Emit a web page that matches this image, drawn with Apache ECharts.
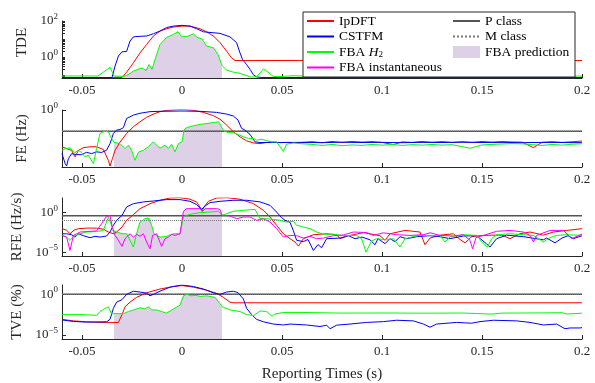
<!DOCTYPE html>
<html>
<head>
<meta charset="utf-8">
<script src="https://cdn.jsdelivr.net/npm/echarts@6/dist/echarts.min.js"></script>
<style>
  html, body { margin: 0; padding: 0; background: #fff; }
  #chart { width: 595px; height: 383px; }
</style>
</head>
<body>
<div id="chart"></div>
<script>
// time axis
const xMin = -0.06;
const xMax = 0.2;
const xTickValues = [-0.05, 0, 0.05, 0.1, 0.15, 0.2];

// panels: TDE, FE, RFE, TVE
const panelNames = ["TDE", "FE (Hz)", "RFE (Hz/s)", "TVE (%)"];
const yMin = [0.066, 6.3e-7, 3.2e-6, 3.2e-6];
const yMax = [100, 1, 72, 14];
const yLabelValues = [[1, 100], [1], [1e-5, 1], [1e-5, 1]];
const tdeTickValues = [0.07, 0.08, 0.09, 0.1, 0.2, 0.3, 0.4, 0.5, 0.6, 0.7, 0.8, 0.9,
  1, 2, 3, 4, 5, 6, 7, 8, 9, 10, 20, 30, 40, 50, 60, 70, 80, 90, 100];

// compliance limits (no limit drawn on TDE)
const pClassLimit = [null, 0.005, 0.4, 1];
const mClassLimit = [null, 0.005, 0.1, 1];

// FBA prediction window
const predictionStart = -0.034;
const predictionEnd = 0.02;

// ---- TDE ----
const tdeIpdft = [[-0.06, 0.07], [-0.03, 0.07], [-0.0277, 0.14], [-0.0243, 0.46], [-0.021, 1.65],
  [-0.0177, 4.9], [-0.0143, 14.5], [-0.011, 27.5], [-0.0077, 37], [-0.0043, 46], [0, 52], [0.004, 52],
  [0.009, 37], [0.0123, 25], [0.0157, 14.5], [0.019, 6.2], [0.0223, 2.1], [0.0248, 0.87], [0.0265, 0.63],
  [0.03, 0.62], [0.06, 0.63], [0.1, 0.62], [0.15, 0.63], [0.2, 0.62]];
const tdeCstfm = [[-0.06, 0.07], [-0.035, 0.07], [-0.0335, 0.3], [-0.0318, 1.1], [-0.03, 1.9], [-0.0277, 2],
  [-0.026, 7.6], [-0.0243, 13], [-0.021, 14], [-0.0177, 14.5], [-0.0143, 19.5], [-0.011, 27.5], [-0.0077, 43],
  [-0.0043, 52], [0, 57], [0.004, 52], [0.0073, 37], [0.0107, 25], [0.014, 23], [0.019, 20.4], [0.024, 13],
  [0.0273, 6.2], [0.029, 1.65], [0.0303, 0.7], [0.0323, 0.37], [0.034, 0.2], [0.0357, 0.1], [0.0373, 0.076],
  [0.04, 0.07], [0.2, 0.07]];
const tdeFbaH2 = [[-0.06, 0.085], [-0.05, 0.086], [-0.042, 0.085], [-0.039, 0.15], [-0.036, 0.26],
  [-0.034, 0.085], [-0.029, 0.082], [-0.027, 0.1], [-0.0243, 0.16], [-0.022, 0.2], [-0.02, 0.24], [-0.018, 0.17],
  [-0.0165, 0.37], [-0.015, 0.2], [-0.0127, 1.35], [-0.011, 4.9], [-0.0077, 12], [-0.0043, 18], [-0.002, 25],
  [0, 13], [0.003, 14], [0.0057, 19.5], [0.0075, 12], [0.01, 10], [0.0123, 4], [0.0157, 3.2], [0.018, 1.35],
  [0.02, 0.33], [0.0223, 0.18], [0.0257, 0.14], [0.029, 0.12], [0.034, 0.076], [0.0373, 0.076], [0.0407, 0.21],
  [0.043, 0.14], [0.0457, 0.08], [0.05, 0.08], [0.055, 0.088], [0.06, 0.085], [0.08, 0.083], [0.1, 0.086],
  [0.12, 0.082], [0.14, 0.085], [0.16, 0.083], [0.18, 0.086], [0.2, 0.084]];

// ---- FE ----
const feIpdft = [[-0.06, 1e-4], [-0.0577, 6.3e-5], [-0.0552, 4e-5], [-0.0535, 8e-6], [-0.0518, 4e-5],
  [-0.0493, 8e-5], [-0.046, 1e-4], [-0.0427, 1e-4], [-0.0393, 5e-5], [-0.0368, 3.2e-6], [-0.036, 8e-7],
  [-0.0348, 5e-6], [-0.0335, 4e-5], [-0.031, 3.2e-4], [-0.0277, 2.8e-3], [-0.0243, 0.015], [-0.021, 0.052],
  [-0.0177, 0.16], [-0.0143, 0.36], [-0.011, 0.66], [-0.0077, 0.9], [-0.0027, 1.1], [0.0007, 1.17],
  [0.0057, 0.9], [0.0107, 0.55], [0.0157, 0.24], [0.019, 0.1], [0.0223, 0.023], [0.0257, 4.3e-3],
  [0.029, 1.2e-3], [0.0323, 4.4e-4], [0.0357, 2.6e-4], [0.039, 2.2e-4], [0.0423, 3e-4], [0.0457, 3.3e-4],
  [0.049, 2.8e-4], [0.0523, 3e-4], [0.059, 2.9e-4], [0.065, 3.6e-4], [0.07, 2.8e-4], [0.075, 3.8e-4],
  [0.08, 3e-4], [0.085, 3.8e-4], [0.09, 3.2e-4], [0.095, 3.7e-4], [0.1, 3e-4], [0.1057, 1.7e-4], [0.11, 3.4e-4],
  [0.115, 3e-4], [0.12, 3.8e-4], [0.125, 3.1e-4], [0.13, 3.7e-4], [0.135, 3e-4], [0.14, 3.6e-4], [0.145, 3e-4],
  [0.15, 3.8e-4], [0.155, 3.2e-4], [0.16, 3.7e-4], [0.165, 3.3e-4], [0.17, 3.2e-4], [0.1757, 8e-5],
  [0.18, 3e-4], [0.185, 3.6e-4], [0.19, 3e-4], [0.195, 3.5e-4], [0.2, 4.2e-4]];
const feCstfm = [[-0.06, 1.8e-5], [-0.0585, 1.6e-6], [-0.0577, 8e-7], [-0.0568, 5e-6], [-0.0552, 1.8e-5],
  [-0.0527, 1.4e-5], [-0.0502, 1.4e-5], [-0.0477, 2.5e-5], [-0.0452, 1.8e-5], [-0.0427, 2.8e-5],
  [-0.0402, 2.4e-5], [-0.0377, 4.2e-5], [-0.036, 2.2e-4], [-0.0343, 2.8e-3], [-0.0327, 6.5e-3],
  [-0.031, 7.6e-3], [-0.0293, 0.012], [-0.0277, 0.12], [-0.0243, 0.28], [-0.021, 0.44], [-0.016, 0.66],
  [-0.011, 0.72], [0, 0.78], [0.009, 0.72], [0.0173, 0.55], [0.0223, 0.36], [0.0257, 0.22], [0.028, 0.08],
  [0.0298, 0.01], [0.0315, 6.5e-3], [0.034, 2.2e-3], [0.0365, 3.4e-4], [0.039, 2.9e-4], [0.05, 2.9e-4],
  [0.06, 3e-4], [0.07, 2.8e-4], [0.08, 3.1e-4], [0.09, 2.9e-4], [0.1, 3e-4], [0.11, 2.8e-4], [0.12, 3e-4],
  [0.13, 2.9e-4], [0.14, 3.1e-4], [0.15, 2.9e-4], [0.16, 3e-4], [0.17, 2.8e-4], [0.18, 3e-4], [0.19, 2.9e-4],
  [0.2, 2.8e-4]];
const feFbaH2 = [[-0.06, 4.2e-5], [-0.0585, 6e-5], [-0.056, 7.6e-5], [-0.0535, 2.3e-5], [-0.0518, 4.2e-5],
  [-0.0502, 2.3e-5], [-0.0485, 8e-6], [-0.0468, 1.2e-5], [-0.0443, 1.4e-6], [-0.0427, 6.3e-5],
  [-0.041, 2.8e-3], [-0.0385, 5e-3], [-0.0368, 4.2e-3], [-0.0352, 8e-4], [-0.034, 3e-4], [-0.0335, 2.2e-4],
  [-0.031, 2.2e-4], [-0.0285, 6.3e-5], [-0.0268, 1.5e-4], [-0.0252, 4.2e-5], [-0.0235, 3.4e-6],
  [-0.0218, 2.6e-5], [-0.0193, 4.2e-5], [-0.0168, 1e-4], [-0.0143, 3.4e-4], [-0.0127, 1.5e-4], [-0.011, 7e-5],
  [-0.0085, 1.5e-4], [-0.0068, 6.3e-5], [-0.0052, 1.9e-4], [-0.0035, 2.8e-5], [-0.0018, 2.2e-4], [0, 3.4e-4],
  [0.001, 6.5e-3], [0.0023, 0.012], [0.0057, 0.019], [0.009, 0.027], [0.014, 0.038], [0.0182, 0.052],
  [0.0193, 0.023], [0.02, 0.011], [0.021, 5e-3], [0.0232, 3.5e-3], [0.0257, 3.3e-3], [0.028, 2.2e-3],
  [0.0307, 1.2e-3], [0.0332, 8e-4], [0.0357, 8e-4], [0.0373, 5.2e-4], [0.0398, 6.5e-4], [0.0423, 4.6e-4],
  [0.0448, 3.4e-4], [0.0473, 3.4e-4], [0.049, 1e-4], [0.0507, 3.2e-5], [0.0523, 1.9e-4], [0.0557, 2.6e-4],
  [0.059, 2.2e-4], [0.065, 1.8e-4], [0.07, 1.4e-4], [0.075, 1.8e-4], [0.08, 1.3e-4], [0.085, 1.6e-4],
  [0.09, 1.4e-4], [0.095, 1.8e-4], [0.1, 1.5e-4], [0.105, 1.8e-4], [0.11, 1.4e-4], [0.115, 1.7e-4],
  [0.12, 1.5e-4], [0.125, 1.8e-4], [0.13, 1.5e-4], [0.135, 1.7e-4], [0.144, 7e-5], [0.15, 1.6e-4],
  [0.155, 1.8e-4], [0.16, 2e-4], [0.165, 2.2e-4], [0.17, 2.1e-4], [0.175, 1.7e-4], [0.18, 1.4e-4],
  [0.185, 1.8e-4], [0.19, 1.5e-4], [0.195, 1.9e-4], [0.2, 2.1e-4]];

// ---- RFE ----
const rfeIpdft = [[-0.06, 9.3e-3], [-0.0577, 6e-3], [-0.056, 2.1e-3], [-0.054, 6e-3], [-0.0518, 9.3e-3],
  [-0.0477, 0.011], [-0.0427, 0.011], [-0.0393, 8e-3], [-0.0368, 3.5e-3], [-0.0343, 2.1e-3], [-0.0327, 3.5e-3],
  [-0.03, 0.015], [-0.0277, 0.107], [-0.0243, 0.56], [-0.021, 3.2], [-0.016, 13.8], [-0.011, 37], [-0.006, 72],
  [-0.001, 79], [0.004, 50], [0.0073, 23], [0.0095, 3.2], [0.01, 1.5], [0.011, 5.2], [0.0132, 27.5],
  [0.0173, 72], [0.0223, 79], [0.029, 50], [0.0357, 13.8], [0.0407, 2], [0.044, 0.28], [0.0473, 0.025],
  [0.0507, 2.1e-3], [0.054, 5e-4], [0.0565, 1.9e-4], [0.0582, 5.7e-5], [0.0607, 5e-4], [0.0657, 1.6e-3],
  [0.0723, 2.1e-3], [0.0773, 1.6e-3], [0.079, 5e-4], [0.0832, 1.2e-3], [0.0907, 2.9e-3], [0.099, 1.2e-3],
  [0.1015, 3.2e-4], [0.104, 2.1e-3], [0.1115, 5.6e-3], [0.119, 3.5e-3], [0.1215, 8.5e-5], [0.124, 6e-4],
  [0.129, 1.4e-3], [0.1357, 2.1e-3], [0.139, 4e-4], [0.1415, 1.5e-4], [0.1448, 9e-4], [0.149, 1.2e-3],
  [0.154, 1.4e-3], [0.16, 1.4e-3], [0.164, 5e-4], [0.169, 2.1e-3], [0.174, 3.5e-3], [0.1807, 1.4e-3],
  [0.1857, 3.5e-3], [0.1923, 5.6e-3], [0.2, 9.3e-3]];
const rfeCstfm = [[-0.06, 2.1e-3], [-0.0577, 2.1e-3], [-0.0552, 1.6e-3], [-0.0535, 7.9e-4], [-0.0518, 2.1e-3],
  [-0.0493, 1.2e-3], [-0.046, 6.6e-4], [-0.0435, 1e-3], [-0.041, 8e-4], [-0.0377, 1.1e-3], [-0.036, 3.5e-3],
  [-0.0343, 0.025], [-0.0327, 0.107], [-0.03, 0.46], [-0.0277, 5.2], [-0.0243, 13.8], [-0.0193, 23],
  [-0.0143, 30], [-0.0077, 45], [-0.001, 45], [0.004, 27.5], [0.0073, 10.5], [0.0098, 2.6], [0.0115, 7],
  [0.014, 18.6], [0.019, 27.5], [0.0257, 37], [0.0323, 37], [0.039, 23], [0.044, 8.5], [0.0473, 1.2],
  [0.0498, 0.23], [0.0515, 0.107], [0.054, 0.06], [0.0557, 5e-3], [0.0573, 3.2e-4], [0.0607, 2.1e-4],
  [0.063, 4e-4], [0.0657, 1.6e-5], [0.068, 9e-5], [0.0698, 3.5e-5], [0.0723, 5e-4], [0.079, 6e-4],
  [0.0832, 1.2e-3], [0.0865, 5e-4], [0.09, 8e-4], [0.094, 3.6e-4], [0.0965, 8.5e-5], [0.098, 5e-4],
  [0.1015, 1.2e-4], [0.104, 5e-4], [0.1065, 2.1e-4], [0.109, 9e-4], [0.1123, 5e-4], [0.1173, 9e-4],
  [0.124, 1.2e-3], [0.129, 9e-4], [0.134, 5e-4], [0.1407, 1.1e-3], [0.1473, 1.2e-3], [0.1523, 1.1e-4],
  [0.154, 4.4e-5], [0.1573, 5e-4], [0.1623, 1.4e-3], [0.1707, 9e-4], [0.1807, 3.6e-4], [0.1823, 6e-4],
  [0.1865, 1.5e-4], [0.19, 6e-4], [0.193, 1.2e-3], [0.1957, 5e-4], [0.2, 1.2e-3]];
const rfeFbaH2 = [[-0.06, 1.3e-3], [-0.0577, 7.9e-4], [-0.056, 3e-4], [-0.0543, 1e-3], [-0.051, 2.1e-3],
  [-0.0477, 3.5e-3], [-0.0427, 4e-3], [-0.0393, 5.6e-3], [-0.0368, 0.28], [-0.036, 0.46], [-0.0343, 5.6e-3],
  [-0.0327, 3.5e-3], [-0.03, 2.1e-3], [-0.0277, 2.1e-3], [-0.026, 3e-4], [-0.0243, 4.4e-5], [-0.0227, 2.1e-3],
  [-0.021, 0.065], [-0.0185, 0.17], [-0.0168, 0.21], [-0.0152, 0.025], [-0.014, 2.1e-3], [-0.0127, 1.3e-3],
  [-0.011, 7.9e-4], [-0.0077, 1e-3], [-0.0043, 2.1e-3], [-0.001, 2.1e-3], [0.0007, 0.28], [0.0023, 0.46],
  [0.0057, 0.74], [0.009, 1], [0.014, 1.2], [0.0182, 1.5], [0.02, 0.46], [0.0223, 0.74], [0.0257, 1.5],
  [0.0307, 2], [0.0365, 2.6], [0.039, 0.17], [0.0423, 0.17], [0.0457, 0.14], [0.049, 0.107], [0.0523, 0.065],
  [0.0557, 0.08], [0.0573, 0.025], [0.0607, 0.015], [0.064, 9.3e-3], [0.0673, 3.5e-3], [0.0707, 1.8e-3],
  [0.0757, 1.8e-3], [0.0807, 1.2e-3], [0.0873, 1.3e-3], [0.0898, 5e-4], [0.092, 1e-5], [0.0948, 2.6e-4],
  [0.0973, 5e-4], [0.1023, 3.6e-4], [0.1057, 5e-4], [0.109, 4.4e-5], [0.1115, 5e-4], [0.1173, 1.2e-3],
  [0.124, 1.3e-3], [0.129, 1.2e-3], [0.1315, 1.9e-4], [0.134, 8.5e-4], [0.1407, 1.6e-3], [0.1473, 1.3e-3],
  [0.1507, 1.1e-4], [0.1527, 4.4e-5], [0.1548, 5e-4], [0.1573, 1.6e-3], [0.164, 2.1e-3], [0.1707, 1.6e-3],
  [0.1757, 1.3e-3], [0.1807, 1.9e-4], [0.184, 7e-4], [0.1873, 1.3e-3], [0.1923, 1.6e-3], [0.2, 1.3e-3]];
const rfeFbaInst = [[-0.06, 1.3e-3], [-0.0577, 7.9e-4], [-0.056, 1.6e-5], [-0.0543, 1.3e-3], [-0.051, 3.5e-3],
  [-0.0477, 4e-3], [-0.0427, 4.8e-3], [-0.0402, 0.04], [-0.038, 0.28], [-0.036, 0.46], [-0.0347, 9.3e-3],
  [-0.0335, 1.3e-3], [-0.0318, 3e-4], [-0.03, 5.2e-5], [-0.0285, 5e-4], [-0.026, 2.1e-3], [-0.0243, 8e-4],
  [-0.0227, 1.8e-3], [-0.021, 1e-3], [-0.0193, 2.1e-3], [-0.0177, 1.9e-4], [-0.016, 2.6e-5], [-0.0147, 1.3e-3],
  [-0.0127, 2.1e-3], [-0.0102, 5.2e-5], [-0.0085, 5e-4], [-0.0068, 8e-4], [-0.0052, 1.8e-3], [-0.0035, 1.3e-3],
  [-0.001, 2.1e-3], [0.0007, 1.5], [0.0023, 3.2], [0.009, 3.2], [0.0103, 1.5], [0.0115, 3.2], [0.0173, 3.2],
  [0.019, 2.6], [0.02, 0.46], [0.024, 0.38], [0.0273, 0.17], [0.0307, 0.28], [0.034, 0.28], [0.0373, 0.107],
  [0.0407, 0.17], [0.044, 0.065], [0.0473, 9.3e-3], [0.0507, 8e-4], [0.054, 1.3e-3], [0.0573, 1.2e-3],
  [0.0607, 6e-4], [0.064, 1e-3], [0.0673, 5e-4], [0.0707, 6e-4], [0.0757, 1.2e-3], [0.0807, 1.5e-3],
  [0.0857, 3.5e-3], [0.0923, 3e-3], [0.0957, 1.3e-3], [0.1007, 2.8e-3], [0.1073, 1.6e-3], [0.114, 1.3e-3],
  [0.1207, 1.6e-3], [0.124, 2.8e-3], [0.129, 1.3e-3], [0.1357, 1.1e-3], [0.1407, 1.6e-3], [0.144, 3e-4],
  [0.1453, 2.6e-5], [0.147, 7e-4], [0.1507, 1.3e-3], [0.1573, 4.3e-3], [0.164, 5.6e-3], [0.1707, 3.5e-3],
  [0.174, 1.3e-3], [0.1757, 1.9e-4], [0.1773, 1.3e-3], [0.184, 5.6e-3], [0.1907, 5.6e-3], [0.1948, 5e-4],
  [0.2, 2e-3]];
const rfePrediction = [[-0.034, 5.6e-3], [-0.0327, 3.5e-3], [-0.03, 2.1e-3], [-0.0277, 2.1e-3], [-0.026, 2.1e-3],
  [-0.0243, 8e-4], [-0.0227, 2.1e-3], [-0.021, 0.065], [-0.0185, 0.17], [-0.0168, 0.21], [-0.0152, 0.025],
  [-0.014, 2.1e-3], [-0.0127, 2.1e-3], [-0.011, 7.9e-4], [-0.0077, 1e-3], [-0.0043, 2.1e-3], [-0.001, 2.1e-3],
  [0.0007, 1.5], [0.0023, 3.2], [0.009, 3.2], [0.0103, 1.5], [0.0115, 3.2], [0.0173, 3.2], [0.019, 2.6],
  [0.02, 0.46]];

// ---- TVE ----
const tveIpdft = [[-0.06, 8.3e-4], [-0.0543, 5.4e-4], [-0.0477, 4.2e-4], [-0.041, 3.5e-4], [-0.0318, 3.5e-4],
  [-0.03, 3.2e-3], [-0.0285, 0.029], [-0.026, 0.11], [-0.0227, 0.42], [-0.0177, 1.55], [-0.011, 4.5],
  [-0.0043, 9.1], [0, 12], [0.0057, 7.6], [0.0123, 3.2], [0.0173, 1.3], [0.0207, 0.42], [0.024, 0.11],
  [0.0257, 0.091], [0.2, 0.091]];
const tveCstfm = [[-0.06, 7.1e-4], [-0.0543, 4.6e-4], [-0.0477, 3.8e-4], [-0.0377, 4.2e-4], [-0.036, 8.3e-4],
  [-0.0343, 0.019], [-0.0327, 0.11], [-0.03, 0.22], [-0.0277, 1], [-0.0243, 2.4], [-0.021, 1.9], [-0.0177, 1.4],
  [-0.016, 0.65], [-0.0143, 1], [-0.011, 2.4], [-0.006, 7.6], [0, 14], [0.0057, 9], [0.0107, 4.5],
  [0.0157, 1.55], [0.019, 1], [0.0223, 1.9], [0.0257, 2.4], [0.028, 1.6], [0.0307, 0.26], [0.0323, 0.019],
  [0.0348, 3.2e-3], [0.0373, 8.3e-4], [0.0407, 4.2e-4], [0.0457, 2.2e-4], [0.0507, 1.7e-4], [0.054, 2.2e-4],
  [0.0623, 1.7e-4], [0.069, 1.1e-4], [0.0723, 1.6e-4], [0.074, 5.9e-5], [0.0773, 1.6e-4], [0.084, 2.2e-4],
  [0.0923, 3.5e-4], [0.1007, 4.4e-4], [0.1073, 6.5e-4], [0.1157, 5.4e-4], [0.1207, 2.2e-4], [0.124, 9e-5],
  [0.1273, 2.2e-4], [0.1373, 3.5e-4], [0.1448, 2.8e-4], [0.149, 4.4e-4], [0.1557, 6.5e-4], [0.1673, 5.4e-4],
  [0.174, 3.5e-4], [0.1807, 1.7e-4], [0.1873, 2.2e-4], [0.1915, 5.9e-5], [0.194, 7.3e-5], [0.199, 7.3e-5],
  [0.2, 8e-5]];
const tveFbaH2 = [[-0.06, 3.2e-3], [-0.05, 3.2e-3], [-0.0427, 2.6e-3], [-0.041, 7.6e-3], [-0.0385, 0.018],
  [-0.0368, 0.029], [-0.0352, 3.8e-3], [-0.034, 4.2e-3], [-0.0335, 4.4e-3], [-0.0293, 4.2e-3], [-0.0268, 7.6e-3],
  [-0.0243, 0.012], [-0.021, 0.022], [-0.0185, 0.016], [-0.0168, 0.029], [-0.0152, 0.012], [-0.0127, 0.012],
  [-0.0102, 7.6e-3], [-0.0077, 4.9e-3], [-0.0043, 0.016], [-0.001, 0.045], [0.0007, 0.65], [0.0023, 1],
  [0.0048, 0.65], [0.007, 0.76], [0.009, 0.55], [0.0123, 0.65], [0.0165, 0.42], [0.019, 0.071], [0.02, 0.03],
  [0.0207, 0.019], [0.024, 0.012], [0.029, 7.6e-3], [0.0323, 3.2e-3], [0.0357, 2.4e-3], [0.039, 9e-3],
  [0.0423, 7.6e-3], [0.045, 2e-3], [0.0465, 3.8e-3], [0.0507, 5.9e-3], [0.06, 5.9e-3], [0.08, 4.9e-3],
  [0.1, 5.1e-3], [0.12, 4.8e-3], [0.14, 5e-3], [0.1548, 3.7e-3], [0.16, 4.9e-3], [0.18, 5.2e-3], [0.19, 5.5e-3],
  [0.1923, 3.8e-3], [0.2, 4.8e-3]];

const ipdft = [tdeIpdft, feIpdft, rfeIpdft, tveIpdft];
const cstfm = [tdeCstfm, feCstfm, rfeCstfm, tveCstfm];
const fbaH2 = [tdeFbaH2, feFbaH2, rfeFbaH2, tveFbaH2];
const fbaInstantaneous = [null, null, rfeFbaInst, null];

// ---- layout / style ----
const gridTops = [21, 110, 198, 285];
const gridHeights = [57, 57, 58, 58];
const font = "'Liberation Serif', 'DejaVu Serif', serif";
const axisColor = "#262626";
const predictionColor = "#ded0e6";

function inWindow(points) {
  return points.filter(([t]) => t >= predictionStart && t <= predictionEnd);
}

function powerLabel(value) {
  const exponent = Math.round(Math.log10(value));
  return "{b|10}{e|" + String(exponent).replace("-", "\u2212") + "}";
}

const grid = [];
const xAxis = [];
const yAxis = [];
const series = [];

panelNames.forEach((name, i) => {
  grid.push({ left: 62, right: 13, top: gridTops[i], height: gridHeights[i] });
  xAxis.push({
    gridIndex: i,
    type: "value",
    min: xMin,
    max: xMax,
    axisLine: { onZero: false, lineStyle: { color: axisColor, width: 1 } },
    axisTick: { inside: true, length: 4, customValues: xTickValues, lineStyle: { color: axisColor } },
    axisLabel: {
      customValues: xTickValues,
      formatter: (v) => String(v),
      margin: 6,
      fontFamily: font,
      fontSize: 13,
      color: axisColor,
    },
    splitLine: { show: false },
    ...(i === 3
      ? {
          name: "Reporting Times (s)",
          nameLocation: "middle",
          nameGap: 28,
          nameTextStyle: { fontFamily: font, fontSize: 15, color: axisColor },
        }
      : {}),
  });
  yAxis.push({
    gridIndex: i,
    type: "log",
    logBase: 10,
    min: yMin[i],
    max: yMax[i],
    axisLine: { show: true, onZero: false, lineStyle: { color: axisColor, width: 1 } },
    axisTick: {
      show: true,
      inside: true,
      length: i === 0 ? 3 : 4,
      customValues: i === 0 ? tdeTickValues : yLabelValues[i],
      lineStyle: { color: axisColor },
    },
    axisLabel: {
      customValues: yLabelValues[i],
      formatter: powerLabel,
      margin: 4,
      color: axisColor,
      rich: {
        b: { fontFamily: font, fontSize: 13, lineHeight: 18, color: axisColor },
        e: { fontFamily: font, fontSize: 9, lineHeight: 18, verticalAlign: "top", color: axisColor },
      },
    },
    splitLine: { show: false },
    name: name,
    nameLocation: "middle",
    nameGap: 24,
    nameTextStyle: {
      fontFamily: font,
      fontSize: 15,
      color: axisColor,
      padding: i === 0 ? [0, 0, 0, 14] : 0,
    },
  });

  const common = { xAxisIndex: i, yAxisIndex: i, type: "line", symbol: "none", animation: false };

  series.push({
    ...common,
    name: "FBA prediction",
    data: i === 2 ? rfePrediction : inWindow(fbaH2[i]),
    z: 1,
    lineStyle: { width: 0, opacity: 0 },
    itemStyle: { color: predictionColor },
    areaStyle: { color: predictionColor, opacity: 1, origin: "start" },
  });
  if (pClassLimit[i] !== null) {
    series.push({
      ...common,
      name: "P class",
      data: [[xMin, pClassLimit[i]], [xMax, pClassLimit[i]]],
      lineStyle: { color: "#555555", width: 1.5 },
      itemStyle: { color: "#555555", opacity: 0 },
    });
    series.push({
      ...common,
      name: "M class",
      data: [[xMin, mClassLimit[i]], [xMax, mClassLimit[i]]],
      lineStyle: { color: "#777777", width: 1, type: "dotted" },
      itemStyle: { color: "#777777", opacity: 0 },
    });
  }
  series.push({ ...common, name: "IpDFT", data: ipdft[i], lineStyle: { color: "#ff0000", width: 1 }, itemStyle: { color: "#ff0000", opacity: 0 } });
  series.push({ ...common, name: "CSTFM", data: cstfm[i], lineStyle: { color: "#0000ff", width: 1 }, itemStyle: { color: "#0000ff", opacity: 0 } });
  series.push({ ...common, name: "FBA H2", data: fbaH2[i], lineStyle: { color: "#00ff00", width: 1 }, itemStyle: { color: "#00ff00", opacity: 0 } });
  if (fbaInstantaneous[i] !== null) {
    series.push({
      ...common,
      name: "FBA instantaneous",
      data: fbaInstantaneous[i],
      lineStyle: { color: "#ff00ff", width: 1 },
      itemStyle: { color: "#ff00ff", opacity: 0 },
    });
  }
});

const legendText = {
  fontFamily: font,
  fontSize: 13.5,
  lineHeight: 14,
  color: "#000",
  rich: {
    n: { fontFamily: font, fontSize: 13.5, lineHeight: 14, color: "#000" },
    i: { fontFamily: font, fontSize: 13.5, lineHeight: 14, fontStyle: "italic", color: "#000" },
    s: { fontFamily: font, fontSize: 9, lineHeight: 14, verticalAlign: "bottom", color: "#000" },
  },
};
const legendBase = {
  orient: "vertical",
  top: 14,
  padding: 0,
  itemWidth: 27,
  itemHeight: 12,
  itemGap: 1.5,
  selectedMode: false,
  itemStyle: { opacity: 0 },
  textStyle: legendText,
  formatter: (name) => (name === "FBA H2" ? "{n|FBA }{i|H}{s|2}" : "{n|" + name + "}"),
  z: 20,
};

const chart = echarts.init(document.getElementById("chart"), null, { renderer: "canvas" });
chart.setOption({
  animation: false,
  backgroundColor: "#ffffff",
  grid,
  xAxis,
  yAxis,
  series,
  graphic: [
    {
      type: "rect",
      z: 15,
      shape: { x: 303, y: 12, width: 272, height: 65 },
      style: { fill: "#ffffff", stroke: axisColor, lineWidth: 1 },
    },
  ],
  legend: [
    { ...legendBase, left: 306, data: ["IpDFT", "CSTFM", "FBA H2", "FBA instantaneous"] },
    {
      ...legendBase,
      left: 452,
      data: [
        "P class",
        "M class",
        { name: "FBA prediction", icon: "rect", itemStyle: { color: predictionColor, opacity: 1 } },
      ],
    },
  ],
});
</script>
</body>
</html>
